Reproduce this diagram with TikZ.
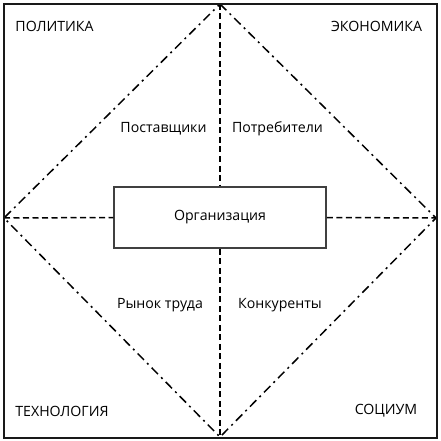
\documentclass[tikz,border=0pt]{standalone}
\usepackage{fontspec}
\setmainfont{Open Sans}
\begin{document}
\begin{tikzpicture}[x=1bp,y=-1bp,
  frame/.style={line width=2bp,draw=black!90},
  diam/.style={line width=1.5bp,draw=black,dash pattern=on 9bp off 4.5bp on 2bp off 4.5bp},
  axis/.style={line width=1.5bp,draw=black,dash pattern=on 6bp off 3.5bp},
  orgbox/.style={draw=black!75,line width=1.5bp,fill=white,minimum width=212bp,minimum height=61bp,inner sep=0pt},
  lbl/.style={font=\fontsize{14.2}{17}\selectfont,inner sep=1bp}]
\useasboundingbox (0,0) rectangle (441,441);
\coordinate (T) at (220,4);
\coordinate (R) at (436,218);
\coordinate (B) at (220,437);
\coordinate (L) at (4,218);
\draw[diam] (T) -- (R) -- (B) -- (L) -- cycle;
\node[orgbox] (org) at (220,217.5) {};
\draw[axis] (L) -- (org.west);
\draw[axis] (org.east) -- (R);
\draw[axis] (T) -- (org.north);
\draw[axis] (org.south) -- (B);
\node[lbl] (orgtext) at (org.center) {Организация};
\draw[frame] (4,4) rectangle (436.5,437.5);
\node[lbl] (pol) at (54.5,26) {ПОЛИТИКА};
\node[lbl] (eco) at (376.5,26) {ЭКОНОМИКА};
\node[lbl] (teh) at (62,411) {ТЕХНОЛОГИЯ};
\node[lbl] (soc) at (386,411) {СОЦИУМ};
\node[lbl] (post) at (163.5,129) {Поставщики};
\node[lbl] (potr) at (277.5,129) {Потребители};
\node[lbl] (ryn) at (160,305) {Рынок труда};
\node[lbl] (kon) at (280,305) {Конкуренты};
\end{tikzpicture}
\end{document}
